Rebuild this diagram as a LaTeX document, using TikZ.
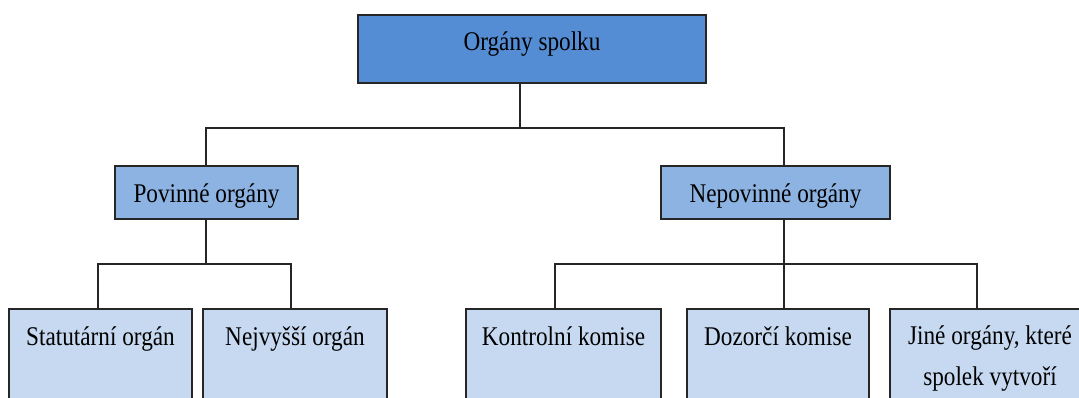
\documentclass[tikz,border=0pt]{standalone}
\usepackage{fontspec}
\setmainfont{Liberation Serif}[FakeStretch=0.86]
\definecolor{cA}{HTML}{548DD4}
\definecolor{cB}{HTML}{8DB3E2}
\definecolor{cC}{HTML}{C6D9F1}
\definecolor{ln}{HTML}{262626}
\tikzset{
  box/.style={draw=ln, line width=1.3pt, rectangle, inner sep=0pt, outer sep=0pt},
  txt/.style={inner sep=0pt, anchor=base, align=center, font=\fontsize{27}{35}\selectfont, text=black},
  conn/.style={draw=ln, line width=1.3pt}
}
\begin{document}
\begin{tikzpicture}[x=1pt,y=-1pt]
\useasboundingbox (0,0) rectangle (1079,398);
\clip (0,0) rectangle (1079,398);
% boxes
\node[box, fill=cA, minimum width=348pt, minimum height=68pt] (top) at (532,49) {};
\node[box, fill=cB, minimum width=183pt, minimum height=53pt] (pov) at (206.5,192.5) {};
\node[box, fill=cB, minimum width=229pt, minimum height=53pt] (nep) at (775.5,192.5) {};
\node[box, fill=cC, minimum width=183pt, minimum height=120pt] (stat) at (100.5,369) {};
\node[box, fill=cC, minimum width=184pt, minimum height=120pt] (nejv) at (295,369) {};
\node[box, fill=cC, minimum width=195pt, minimum height=120pt] (kont) at (563.5,369) {};
\node[box, fill=cC, minimum width=182pt, minimum height=120pt] (dozo) at (778,369) {};
\node[box, fill=cC, minimum width=200pt, minimum height=120pt] (jine) at (990,369) {};
% texts
\node[txt] (ttop) at (532,51) {Orgány spolku};
\node[txt] (tpov) at (206.5,203) {Povinné orgány};
\node[txt] (tnep) at (775.5,203) {Nepovinné orgány};
\node[txt] (tstat) at (100.5,345) {Statutární orgán};
\node[txt] (tnejv) at (295,345) {Nejvyšší orgán};
\node[txt] (tkont) at (563.5,345) {Kontrolní komise};
\node[txt] (tdozo) at (778,345) {Dozorčí komise};
\node[txt, anchor=north, font=\fontsize{27}{41}\selectfont] (tjine) at (990,326) {Jiné orgány, které\\spolek vytvoří};
% connectors
\coordinate (j1) at (520,128);
\coordinate (j2) at (206,264);
\coordinate (j3) at (784,264);
\draw[conn] ([xshift=-12pt]top.south) -- (j1);
\draw[conn] (j1) -| ([xshift=-0.5pt]pov.north);
\draw[conn] (j1) -| ([xshift=8.5pt]nep.north);
\draw[conn] ([xshift=-0.5pt]pov.south) -- (j2);
\draw[conn] (j2) -| ([xshift=-2.5pt]stat.north);
\draw[conn] (j2) -| ([xshift=-4pt]nejv.north);
\draw[conn] ([xshift=8.5pt]nep.south) -- (j3);
\draw[conn] (j3) -| ([xshift=-8.5pt]kont.north);
\draw[conn] (j3) -- ([xshift=6pt]dozo.north);
\draw[conn] (j3) -| ([xshift=-13pt]jine.north);
\end{tikzpicture}
\end{document}
